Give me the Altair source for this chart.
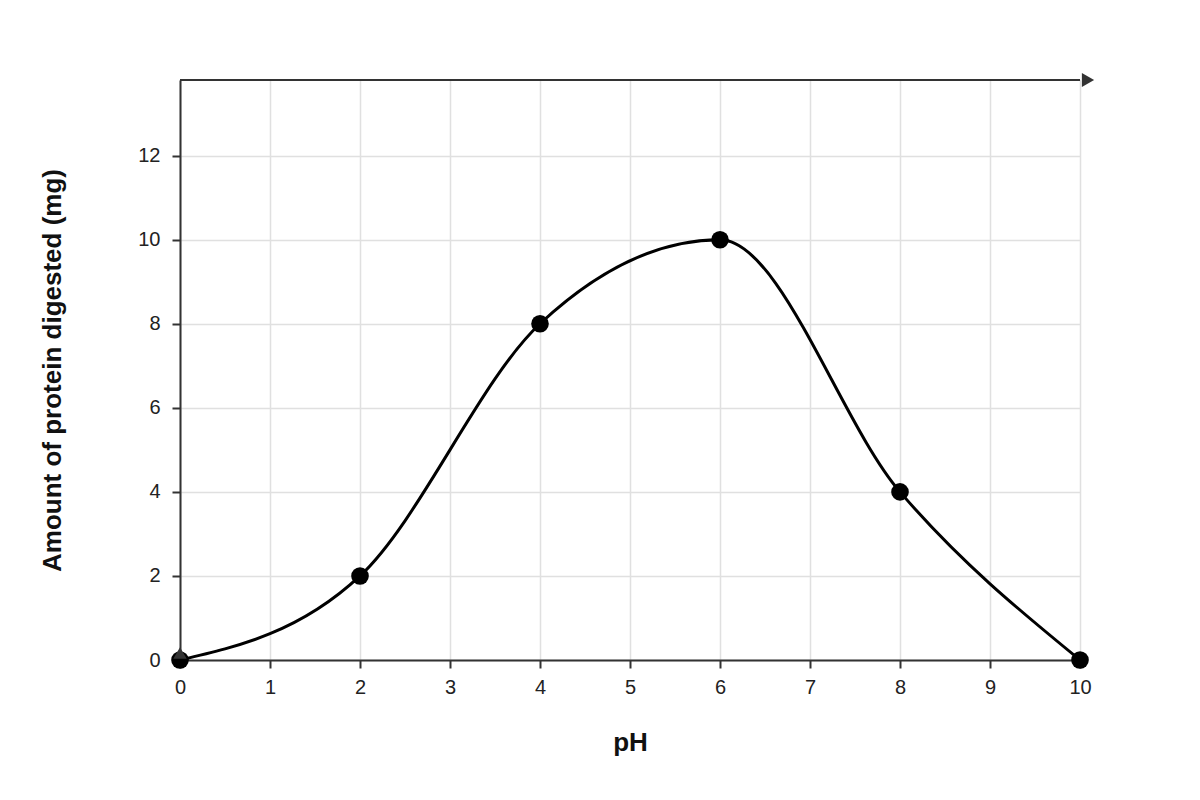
import altair as alt
import pandas as pd

ph = [0, 2, 4, 6, 8, 10]
protein = [0, 2, 8, 10, 4, 0]
x_ticks = [0, 1, 2, 3, 4, 5, 6, 7, 8, 9, 10]
y_ticks = [0, 2, 4, 6, 8, 10, 12]
y_max = 13.8
x_max = 10

df = pd.DataFrame({"ph": ph, "protein": protein})
FONT = "Liberation Sans"

xs = alt.Scale(domain=[0, x_max], nice=False)
ys = alt.Scale(domain=[0, y_max], nice=False)

base = alt.Chart(df)

x_enc = alt.X("ph:Q", scale=xs, axis=alt.Axis(
    values=x_ticks, format="d", labelFlush=False, title="pH", grid=True, gridColor="#e0e0e0", gridWidth=1.5,
    domainColor="#333333", domainWidth=2, tickColor="#333333", tickWidth=2, tickSize=8,
    labelFontSize=20, labelColor="#222222", labelFont=FONT, labelPadding=9,
    titleFont=FONT, titleFontSize=26, titleFontWeight="bold", titleColor="#111111",
    titleX=450, titleY=82, titleBaseline="middle"))
y_enc = alt.Y("protein:Q", scale=ys, axis=alt.Axis(
    values=y_ticks, format="d", labelFlush=False, title="Amount of protein digested (mg)", grid=True,
    gridColor="#e0e0e0", gridWidth=1.5,
    domainColor="#333333", domainWidth=2, tickColor="#333333", tickWidth=2, tickSize=8,
    labelFontSize=20, labelColor="#222222", labelFont=FONT, labelPadding=12,
    titleFont=FONT, titleFontSize=26, titleFontWeight="bold", titleColor="#111111",
    titleX=-128, titleY=290, titleBaseline="middle", titleAlign="center", titleAngle=-90))

curve = base.mark_line(interpolate="monotone", color="black", strokeWidth=3).encode(x=x_enc, y=y_enc)
points = base.mark_circle(size=310, color="black", opacity=1).encode(x="ph:Q", y="protein:Q")

one = pd.DataFrame({"a": [0]})
top_line = alt.Chart(one).mark_rule(color="#333333", strokeWidth=2).encode(
    x=alt.datum(0), x2=alt.datum(x_max), y=alt.datum(y_max))
arrow_right = alt.Chart(one).mark_point(
    shape="triangle-right", size=200, filled=True, color="#333333", opacity=1, xOffset=8, clip=False).encode(
    x=alt.datum(x_max), y=alt.datum(y_max))
arrow_up = alt.Chart(one).mark_point(
    shape="triangle-up", size=180, filled=True, color="#333333", opacity=1, yOffset=-7, clip=False).encode(
    x=alt.datum(0), y=alt.datum(0))

chart = alt.layer(curve, points, top_line, arrow_up, arrow_right).properties(
    width=900, height=580,
    padding={"left": 172, "top": 72, "right": 100, "bottom": 120},
    autosize=alt.AutoSizeParams(type="none"),
).configure_view(
    fill="#f9f9f9", stroke="#999999", strokeWidth=2
).configure(background="white")

chart.save("out.html", embed_options={"renderer": "svg", "actions": False})
